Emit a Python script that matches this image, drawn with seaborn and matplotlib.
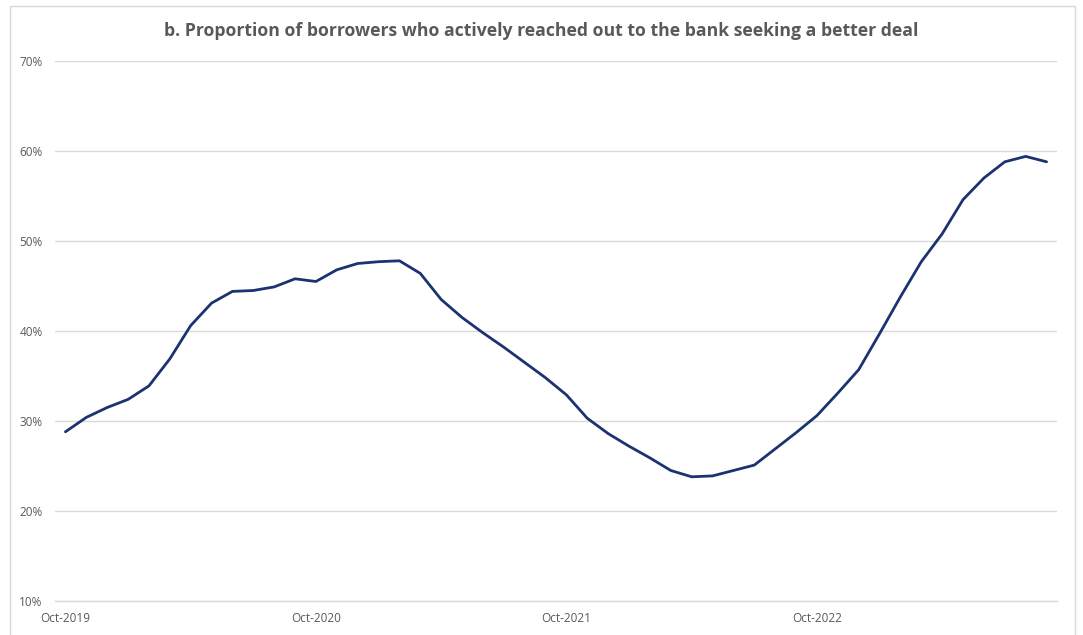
import matplotlib
matplotlib.use("Agg")
import matplotlib.pyplot as plt
from matplotlib.patches import Rectangle
import seaborn as sns
import pandas as pd

# Monthly series, Oct-2019 to Sep-2023 (per cent of borrowers)
months = pd.date_range("2019-10-01", "2023-09-01", freq="MS")
share_pct = [
    28.8, 30.4, 31.5, 32.4, 33.9, 36.9, 40.6, 43.1, 44.4, 44.5, 44.9, 45.8,
    45.5, 46.8, 47.5, 47.7, 47.8, 46.4, 43.5, 41.5, 39.8, 38.2, 36.5, 34.8,
    32.9, 30.3, 28.6, 27.2, 25.9, 24.5, 23.8, 23.9, 24.5, 25.1, 26.9, 28.7,
    30.6, 33.1, 35.7, 39.7, 43.8, 47.7, 50.8, 54.6, 57.0, 58.8, 59.4, 58.8,
]
tick_labels = ["Oct-2019", "Oct-2020", "Oct-2021", "Oct-2022"]
y_ticks = [10, 20, 30, 40, 50, 60, 70]
title = "b. Proportion of borrowers who actively reached out to the bank seeking a better deal"

df = pd.DataFrame({"month": months, "idx": range(len(months)), "share": share_pct})

sns.set_theme(style="white")
plt.rcParams["font.family"] = ["Open Sans", "DejaVu Sans"]

text_grey = "#595959"
grid_grey = "#D9D9D9"

fig = plt.figure(figsize=(10.83, 6.35), dpi=100)
ax = fig.add_axes([55 / 1083, 1 - 601 / 635, 1002 / 1083, 540 / 635])

sns.lineplot(data=df, x="idx", y="share", ax=ax, color="#1B3370", linewidth=2.0)

n = len(months)
ax.set_xlim(-0.5, n - 0.5)
ax.set_ylim(10, 70)
ax.set_yticks(y_ticks)
ax.set_yticklabels([f"{v}%" for v in y_ticks], color=text_grey, fontsize=8.5)

# labels sit on each October; tick marks sit on the category boundaries
tick_pos = [i for i, m in enumerate(months) if m.month == 10]
ax.set_xticks(tick_pos)
ax.set_xticklabels(tick_labels, color=text_grey, fontsize=8.5)
ax.set_xticks([p - 0.5 for p in tick_pos] + [n - 0.5], minor=True)
ax.set_xlabel("")
ax.set_ylabel("")

ax.grid(axis="y", color=grid_grey, linewidth=1.0)
ax.grid(axis="x", visible=False)
for side in ["top", "right", "left"]:
    ax.spines[side].set_visible(False)
ax.spines["bottom"].set_color(grid_grey)
ax.spines["bottom"].set_linewidth(1.0)
ax.tick_params(axis="x", which="major", length=0, pad=8)
ax.tick_params(axis="x", which="minor", length=3, direction="out", color=grid_grey)
ax.tick_params(axis="y", length=0, pad=9)

fig.text(541 / 1083, 1 - 31 / 635, title, ha="center", va="center",
         fontsize=12.7, fontweight="bold", color=text_grey)

# chart area frame
fig.patches.append(Rectangle((10 / 1083, -0.05), 1065 / 1083, 1.05 - 6 / 635,
                             transform=fig.transFigure, fill=False,
                             edgecolor="#D9D9D9", linewidth=1.0))

fig.savefig("out.png", dpi=100)
